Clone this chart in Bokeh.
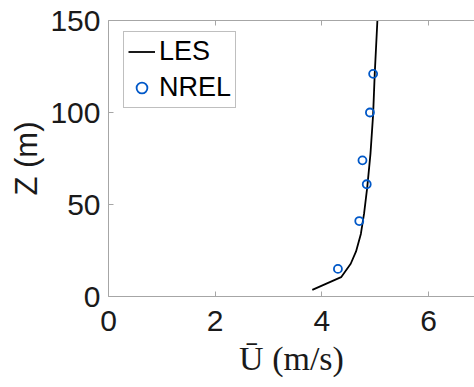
from bokeh.plotting import figure
from bokeh.models import Range1d, LinearAxis, FixedTicker, Legend, LegendItem
from bokeh.embed import file_html
from bokeh.resources import INLINE

# LES profile
les_u = [3.82, 4.36, 4.54, 4.64, 4.73, 4.79, 4.85, 4.91, 4.96, 4.99, 5.04]
les_z = [3.6, 10.5, 17.8, 24.5, 34.0, 45.0, 59.4, 77.5, 99.0, 121.0, 150.0]

# NREL measurements
nrel_u = [4.30, 4.70, 4.84, 4.76, 4.90, 4.96]
nrel_z = [15, 41, 61, 74, 100, 121]

x_ticks = [0, 2, 4, 6]
y_ticks = [0, 50, 100, 150]

FONT = "Liberation Sans"
AX = "#a6a6a6"

p = figure(width=474, height=387, output_backend="svg", toolbar_location=None,
           x_range=Range1d(0, 6.86), y_range=Range1d(0, 150),
           min_border_left=108, min_border_right=0, min_border_top=20, min_border_bottom=91)
p.outline_line_color = None
p.xgrid.visible = False
p.ygrid.visible = False
p.background_fill_color = "white"

for ax in (p.xaxis[0], p.yaxis[0]):
    ax.axis_line_color = AX
    ax.major_tick_line_color = AX
    ax.major_tick_in = 5
    ax.major_tick_out = 0
    ax.minor_tick_line_color = None
    ax.major_label_text_font = FONT
    ax.major_label_text_font_size = "30px"
    ax.major_label_text_color = "#1a1a1a"

p.xaxis[0].ticker = FixedTicker(ticks=x_ticks)
p.yaxis[0].ticker = FixedTicker(ticks=y_ticks)
p.xaxis[0].major_label_standoff = 14
p.yaxis[0].major_label_standoff = 8
p.xaxis[0].axis_label = "Ū (m/s)"
p.xaxis[0].axis_label_text_font = "Liberation Serif"
p.xaxis[0].axis_label_text_font_size = "34px"
p.xaxis[0].axis_label_text_font_style = "normal"
p.xaxis[0].axis_label_text_color = "#1a1a1a"
p.xaxis[0].axis_label_standoff = 6
p.yaxis[0].axis_label = "Z (m)"
p.yaxis[0].axis_label_text_font = FONT
p.yaxis[0].axis_label_text_font_size = "31px"
p.yaxis[0].axis_label_text_font_style = "normal"
p.yaxis[0].axis_label_text_color = "#1a1a1a"
p.yaxis[0].axis_label_standoff = 3

top = LinearAxis(ticker=FixedTicker(ticks=x_ticks))
top.axis_line_color = AX
top.major_tick_line_color = AX
top.major_tick_in = 5
top.major_tick_out = 0
top.minor_tick_line_color = None
top.major_label_text_font_size = "0px"
top.major_label_text_color = None
p.add_layout(top, "above")

les = p.line(les_u, les_z, line_color="black", line_width=1.8)
nrel = p.scatter(nrel_u, nrel_z, marker="circle", size=8, fill_color=None,
                 line_color="#0058c8", line_width=1.8)

legend = Legend(items=[LegendItem(label="LES", renderers=[les]),
                       LegendItem(label="NREL", renderers=[nrel])],
                location=(15, 188))
legend.label_text_font = FONT
legend.label_text_font_size = "27px"
legend.label_text_color = "black"
legend.border_line_color = "#808080"
legend.border_line_width = 1
legend.background_fill_color = "white"
legend.padding = 4
legend.spacing = 5
legend.margin = 0
legend.glyph_width = 27
legend.glyph_height = 29
legend.label_height = 29
legend.label_standoff = 4
p.add_layout(legend, "center")

open("out.html", "w").write(file_html(p, INLINE))
